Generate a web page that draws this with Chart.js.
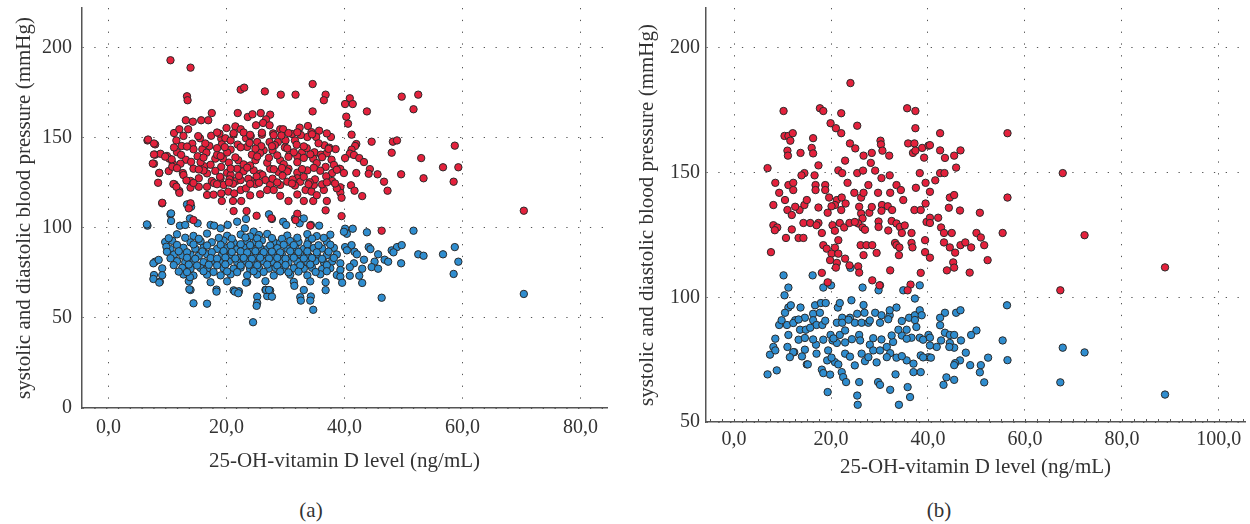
<!DOCTYPE html>
<html>
<head>
<meta charset="utf-8">
<script src="https://cdn.jsdelivr.net/npm/chart.js@4.4.1/dist/chart.umd.min.js"></script>
<style>
  body { margin: 0; background: #fff; width: 1250px; height: 524px; position: relative; overflow: hidden; font-family: "Liberation Serif", serif; }
  .panel { position: absolute; top: 0; width: 625px; height: 480px; }
  .lbl { position: absolute; font-size: 21px; color: #333; white-space: nowrap; transform: translate(-50%, -50%); }
</style>
</head>
<body>
<div class="panel" style="left:0"><canvas id="chartA"></canvas></div>
<div class="panel" style="left:625px"><canvas id="chartB"></canvas></div>
<div class="lbl" style="left:311px;top:510px">(a)</div>
<div class="lbl" style="left:939px;top:510px">(b)</div>
<script>
// panel (a): [25-OH-vitamin D, blood pressure]
const aSystolic = [
  [10.5,193],[13.9,188.9],[22.4,176.7],[23.0,177.8],[26.5,175.7],[29.2,173.9],[31.7,173.9],[34.6,179.8],[36.8,173.9],[36.5,170.8],
  [13.3,173],[13.4,170.8],[34.6,164.6],[17.5,163.7],[21.9,163.7],[13.1,159.7],[14.3,158.9],[15.7,159.7],[16.9,159.7],[23.6,161.5],
  [24.4,163],[25.8,163.7],[27.4,162.8],[26.7,160.2],[26.2,158.2],[25,156.9],[27.3,156.9],[20,155.4],[21.5,156.3],[22.4,154.7],
  [29.1,154.7],[29.6,154.7],[32.4,155.6],[33.8,156.5],[35.7,153.9],[33.7,150.4],[35.2,150.4],[37.7,150.4],[38.5,143.7],[11.1,152.6],
  [12,154.7],[13.5,154.7],[12.7,151],[15.5,149.7],[6.6,148.5],[7.9,146.3],[11.5,148.5],[12.4,145.4],[14.2,146.7],[17.4,151.1],
  [19.1,149.5],[19.8,149.7],[20.7,148.5],[23.3,149.7],[25.2,147.6],[27.3,147.6],[28.7,147.6],[30,148.5],[31.6,148.5],[32.8,141.9],
  [34.9,141.9],[36.6,145.8],[19.2,146.3],[17.1,145.4],[15.9,143.6],[16.6,141.7],[14.4,143.6],[10.3,138.4],[10.9,135.6],[7.7,135.6],
  [7.9,140.6],[13.1,137.8],[15.1,139.7],[18.1,138.4],[19.4,138.4],[20.7,143.4],[22,137.5],[23.5,144.9],[24.9,137.5],[26.3,143],
  [27.8,143],[29.1,137.5],[30.7,141.2],[32,139.7],[34.7,138.4],[36,140.6],[37.8,137.8],[39.1,132.8],[36.8,133.8],[33.7,131.9],
  [30.5,132.8],[27.4,132.8],[24.6,131.9],[21.8,132.8],[19.1,133.8],[16.3,134.1],[12.6,130.4],[8.6,130.4],[14.4,132.8],[28.8,131],
  [8.8,141.1],[11.6,142],[18.4,140.5],[20.1,141.8],[24.3,140.6],[25.7,141.5],[28.6,140.2],[31.4,141.9],[34.2,140.8],[37,141.4],
  [12.2,135.6],[15.6,136.4],[17.3,135],[20.4,136.2],[22.9,135.2],[24,134.6],[26.9,136.1],[29.7,135.3],[32,136.4],[35.3,135.9],[38.2,134.9],
  [10.2,131.5],[16.7,130.2],[18.1,131.6],[20.1,130.5],[22.9,131.4],[25.7,130.1],[30.3,131.3],[32,130.6],[35.9,131.7],[37.9,130.4],
  [40.9,171.9],[40.1,168.7],[41.4,168.7],[49.7,172.8],[52.5,173.9],[51.7,165.8],[43.8,164.6],[40.3,161.7],[40.6,157.8],[41.2,151.7],
  [42,146.5],[41.8,145.4],[44.6,147.8],[48.2,147.8],[48.9,148.5],[41.2,143.4],[40.9,141.2],[41.6,140.4],[40.1,138.7],[42.5,138.7],
  [43.3,136.5],[48,141.7],[53,138.7],[58.7,145.6],[56.7,133.6],[59.3,133.6],[44.3,132.6],[39.3,132.6],[39.9,130.4],[42,130.4],
  [44.1,130],[45.6,129.7],[49.6,129.7],[46.7,125.6],[53.4,127.5],[58.5,125.6],[41.1,123.6],[41.7,120.6],[39.3,122.5],[39.3,119.5],
  [39.5,116.7],[47.3,120.6],[43,117.6],[70.4,109.5],[39.5,106.5],[46.3,98.4],
  [12.7,129.3],[13.9,126],[11.2,124.1],[12,120.4],[13.9,122.3],[15.3,122.8],[16.7,122.8],[17.5,126],[19,127.5],[19.5,123.8],
  [20.3,120.1],[19.1,119.1],[21.3,119.1],[22.4,121],[23.3,121.9],[21.6,126],[22.4,126.5],[20.7,129.3],[24.6,126],[26.1,129.3],
  [26.6,126.5],[27.4,123.8],[26.9,121],[28,121],[29.1,123.8],[30.3,125.6],[32,127.5],[32.5,125.6],[33.4,121],[34.4,120.1],
  [34.8,123.8],[36.5,121],[37.9,126],[38.7,121.9],[30.5,114.9],[33.1,114.9],[34.7,114.9],[37,114.9],[16.7,118.2],[19.2,114.9],
  [21.1,114.9],[22.5,114.9],[9.1,113.6],[13.9,113.6],[13.6,110.8],[21.2,109.3],[23.4,109.3],[25.1,106.7],[27.6,105.3],[32,107.8],
  [31.7,104.3],[34.2,101.2],[36.8,109.7],[14.4,104.3],
  [6.7,149],[7.7,146.8],[7.7,140.7],[7.5,135.7],[8.6,130.5],[8.4,125],[9.1,113.9],[9.9,139.9],[10.7,138],[10.8,133.9],
  [11,124.3],[11.5,122.8],[12,119.4],
  [18.8,152.3],[21.2,151.8],[22.9,152.9],[24.1,150.9],[26,151.7],[27.9,152.4],[29.3,151.2],[31.1,152.1],[32.6,151.5],[34.4,153.1],
  [19.7,144.8],[21.9,146.2],[23.9,147.1],[25.9,145.3],[28.2,145.9],[29.9,144.6],[31.9,146.1],[33.6,144.2],[35.6,146.9],[37.4,144.5],
  [18.9,128.3],[20.5,126.9],[22.1,128.8],[23.7,127.2],[25.1,128.5],[27.8,127.3],[29.5,128.9],[31.2,126.8],[33.1,128.3],[35,126.9],
  [36.9,128.6],[38.4,124.6],[17.9,124.8],[21.1,124.5],[24.9,124.3],[28.6,125.2],[31.6,123.5],[34.1,125.3],[36.2,124.1],[15.3,127.5],
  [13.2,126.3],[16.1,131.8],[14,136.6],[12.3,140.5],[15.2,150.9],[16.4,146.8],
  [18.4,152.9],[21.2,152.5],[24,151.6],[26,152.8],[28,151.4],[30.5,152.6],[32,153],[34.5,151.9],[37,152.4],
  [11.1,144.6],[13.3,145.1],[18.4,144.2],[22.4,144.7],[24.9,143.9],[27.7,145.3],[30.3,144.1],[33.1,145.2],[37.3,143.8],
  [9.6,139.5],[16.1,139],[19,139.8],[21.5,139.1],[25.2,139.6],[27.2,138.9],[30.5,139.4],[33.1,138.8],[36.2,139.2],
  [11.6,133.1],[15.3,132.4],[20.7,132.9],[23.5,133.4],[28,132.5],[29.4,133.2],[32.8,132.6],[34.8,133.3],[38.7,132.2],
  [14.4,124.9],[18.4,124.2],[20.4,125.1],[24,124.4],[25.5,125],[31.1,124.6],[33.9,124.2],[37,125.2],
  [17.8,118.4],[24,118],[25.7,118.6],[29.1,117.8],[32,118.5],[35.3,118.1]
];
const aDiastolic = [
  [6.6,101.2],[10.5,107.5],[10.6,103.8],[13.3,113],[14,111.7],[13.8,105.2],[15.1,102.5],[12.1,101.2],[13,101.6],[17.3,101.6],
  [17.9,101.2],[19,99.7],[20.2,101.6],[21.8,103.4],[23.3,104.9],[23.1,99.7],[24.6,97.9],[25.5,96],[27.2,107.5],[27.7,104.9],
  [29.6,103.4],[30.1,101.6],[32.4,102.5],[33.1,105.2],[31.6,105.2],[34.3,101.6],[35.7,101.2],
  [11.6,96.4],[14.4,95.5],[16.7,96.8],[20.1,95.6],[22.4,96.3],[24,95.2],[26.9,96.6],[30.3,95.7],[33.7,96.5],[35.3,95.4],[37.6,96.2],
  [9.6,92.1],[10.8,92.8],[13.9,91.9],[15.6,92.6],[17.5,92],[19.5,92.9],[21.2,91.8],[23.5,92.5],[24.9,92.1],[26,93],
  [28,92.2],[29.1,91.7],[30.8,92.7],[32.2,92.1],[33.9,92.6],[37,92.3],
  [10.5,88.2],[12.7,88.9],[14.7,88.4],[16.1,89],[18.4,88.3],[20.1,88.8],[21.8,88.1],[22.9,89.1],[24.3,88.5],[25.7,88.9],
  [26.9,88.2],[28.6,88.7],[30.3,88.4],[31.7,89],[33.1,88.3],[34.8,88.8],[36.2,88.5],[38.2,88.9],
  [11.1,85.2],[12.5,84.6],[13.9,85.1],[15.3,84.5],[16.7,85.3],[19.2,84.7],[20.7,85.2],[22.4,84.6],[23.8,85.1],[25.2,84.8],
  [26.6,85.3],[28,84.6],[29.4,85],[31.1,84.7],[32.5,85.2],[33.9,84.5],[35.3,85.1],[37,84.8],[38.7,85.2],
  [7.9,81.2],[11.6,81.5],[13,80.9],[14.4,81.4],[16.1,81],[17.5,81.6],[19,80.8],[20.4,81.3],[21.8,81.1],[23.2,81.6],
  [24.6,80.9],[26.3,81.4],[27.7,81],[29.1,81.5],[30.5,80.8],[32,81.3],[33.7,81],[35.1,81.5],[36.5,80.9],[37.9,81.3],
  [9.1,77.5],[12.5,77.8],[13.9,77.2],[15.6,77.7],[16.7,77.1],[19.5,77.6],[21.2,77.3],[22.4,77.9],[24,77.2],[25.5,77.7],
  [27.2,77.4],[28.3,77.8],[29.7,77.2],[31.4,77.6],[33.1,77.3],[34.5,77.8],[36.2,77.1],[37.6,77.6],
  [7.7,73.8],[12.7,74.1],[14.4,73.5],[16.7,74],[19,73.6],[20.7,74.2],[23.5,73.7],[25.2,74.1],[28,73.5],[30.8,74],
  [33.7,73.6],[35.9,74.2],[38.7,73.8],
  [8.7,70.1],[13.6,70.4],[17.3,69.8],[20.1,70.3],[23.5,69.9],[26.6,70.4],[31.4,70],[34.2,70.3],[36.8,69.8],
  [13.9,65.5],[18.3,65.7],[21.2,65.3],[22.1,64.8],[26.6,65.6],[27.4,65.2],[33.1,65.5],[36.8,65.4],
  [25.2,61.8],[26.9,62.1],[32.5,61.5],[34.3,61.9],[14.4,58.1],[16.7,57.9],[25.2,58.3],
  [24.5,47.6],[25.1,56.7],[34.7,54.5],[34.2,59.6],[32.6,59.6],[18.3,64.6],[21.4,64.6],[22,63.7],[23.3,69.6],[27.7,61.8],
  [26.7,65.5],[27.2,65.5],[31.5,67.8],[13.7,65.9],[13.8,72.6],[7.6,71.6],[8.6,69.6],[9.1,73.7],[6.5,101.9],[10.6,108],
  [7.6,80.3],[8.5,82.2],[9.8,89.5],
  [10.2,94.2],[13,94.5],[15.3,93.9],[18.7,94.4],[20.9,94],[23.2,94.6],[25.2,94.1],[27.7,94.3],[29.4,93.9],[32,94.5],[34.5,94],[36.5,94.4],
  [11.6,90.5],[14.4,90.8],[16.7,90.2],[19,90.6],[20.7,90.3],[22.4,90.9],[24,90.4],[25.5,90.7],[27.4,90.2],[29.7,90.6],[31.4,90.4],[33.7,90.8],[35.6,90.3],[37.6,90.6],
  [9.9,86.7],[11.9,87],[13.3,86.4],[15.9,86.9],[17.5,86.5],[19.5,87.1],[20.9,86.6],[22.4,86.9],[23.5,86.3],[24.9,87],
  [26.3,86.5],[27.7,86.8],[29.1,86.4],[30.8,87],[32.2,86.6],[33.7,86.9],[35.3,86.4],[37.3,86.8],
  [10.5,83.1],[13.3,83.4],[14.7,82.8],[17.3,83.2],[18.4,82.9],[19.8,83.5],[21.5,83],[22.9,83.3],[24.3,82.8],[25.7,83.4],
  [27.2,83],[28.6,83.3],[30,82.9],[31.4,83.4],[33.1,83],[34.5,83.2],[36.2,82.8],[38.2,83.3],
  [11.05,79.3],[13.6,79.6],[15,79.1],[17,79.5],[18.4,79.2],[19.8,79.7],[22.4,79.1],[23.8,79.5],[25.2,79.3],[26.9,79.6],
  [28.6,79.1],[30,79.4],[32.5,79.2],[34.2,79.6],[37,79.3],
  [11.9,75.7],[13.3,75.4],[16.1,75.9],[17.8,75.5],[20.1,75.8],[21.8,75.4],[24.6,75.9],[26.3,75.5],[29.1,75.8],[30.5,75.3],
  [32.2,75.7],[35.1,75.5],[37,75.9],
  [40.1,99.5],[41.4,99.5],[40.4,96.7],[39.9,97.8],[43.8,97.5],[51.7,98.4],[40.1,89.3],[41.2,90.4],[40.4,87.5],[41.7,86.7],
  [42.1,85.3],[44.1,89.3],[44.4,88.2],[48,87.5],[48.9,89.3],[49.7,90.4],[48.3,86.4],[45.7,85.3],[46.8,82.3],[47.4,81.2],
  [52.5,85.3],[53.4,84.5],[56.7,85.3],[58.7,89.3],[59.3,81.2],[49.6,80.3],[45.1,81.2],[44.6,78.2],[45.7,77.3],[43.3,82.3],
  [41.6,80.3],[40.9,78.2],[43,77.3],[39.3,80.3],[39.3,76.6],[39.3,72.9],[40.9,73.4],[42.5,73.4],[43,69.4],[39.6,69.5],
  [58.5,74.4],[46.3,61.2],[70.4,63.3]
];

// panel (b)
const bSystolic = [
  [24,185.9],[10.2,174.7],[17.7,175.8],[18.4,174.7],[22.1,173.8],[35.7,175.8],[37.4,174.7],[37.4,167.8],[25.4,168.8],[19.9,169.8],
  [21,167.8],[22.1,165.8],[10.4,164.7],[11.2,164.7],[12.1,165.8],[11.6,162.8],[16.3,163.8],[16,159.9],[16.3,157.7],[11,158.8],
  [11.1,156.8],[13.7,157.9],[23.9,161.7],[25,159.7],[30.2,162.8],[30.3,161.3],[30.6,158.8],[28.4,157.9],[26.7,156.8],[32,156.8],
  [35.9,161.7],[37.2,161.7],[36.9,157.9],[37.4,158.8],[38.8,159.9],[40.1,160.8],[39.2,156],[22.9,154.8],[28.2,153.9],[17.4,152.9],
  [6.9,151.8],[21.5,150.9],[22.3,149.8],[25.4,149.8],[26.6,150.8],[29.1,150.8],[14.5,149.8],[13.9,148.9],[16.6,148.9],[38.3,149.8],
  [32.1,148.9],[30.4,147.8],[8.5,145.9],[11.2,145],[12.2,145.9],[16.8,145],[18.8,145],[23.4,145.9],[27.7,145],[33.5,145],
  [37.5,143.9],[39.5,145.9],
  [56.4,165.8],[40.4,161],[42.5,165.8],[42.5,158.9],[43.5,155.9],[45.4,156.8],[46.7,158.9],[45.8,152],[42.5,149.8],[43.4,149.8],
  [41.5,146.9],[67.8,149.8],
  [9.3,141.9],[12.2,143],[16.8,143],[18.8,143],[19.6,140],[21.2,139],[22.2,140],[23,137.6],[22.1,135],[20.8,137],
  [24.8,141.9],[26.2,140],[26.7,141.9],[25.8,136.3],[26.2,133.6],[27.9,133.9],[26.5,131.6],[25.6,129.6],[26.5,128],
  [29.7,141.9],[32.2,141.9],[34.4,143],[34.9,139],[30.5,137],[31.7,136.5],[32.6,135],[30.4,134.7],[29.8,130.4],[29.8,128.2],
  [32.5,130.6],[33.5,129.6],[34.2,128.2],[35.2,128.8],[34.6,125.8],[36.6,125.8],[37.2,135],[38.5,135],[39.5,137.6],[39.7,130.2],
  [39.4,122.9],[8.1,137],[10.5,139],[11,135],[11.9,133],[13.5,135],[14.5,137],[15,139],[8.1,128.9],[8.9,128],
  [14.3,129.8],[15.7,129.8],[17.4,129.8],[18.1,125.8],[17,128.9],[19.3,133.9],[20.3,128.9],[21.8,129.8],[22.7,128],[23.8,129.8],
  [24.9,130.2],[10.7,123.8],[13.3,123.8],[14.3,123.8],[7.6,118.1],[18.4,120.9],[19.1,119.5],[20.8,119.9],[21.5,122.9],[20.1,117.5],
  [21.5,117.5],[22.9,115.5],[19.8,114.9],[21.2,113.8],[21,111.9],[23.8,112.8],[25.6,112.4],[25.8,109.9],[26.1,120.9],[27.3,120.9],
  [28.5,120.9],[26.7,116.9],[29.4,117.8],[33.2,121.8],[33.5,120.9],[34.1,120],[34,116.9],[36.6,121.8],[36.8,120],[39.4,118.1],
  [32.2,110.8],[38.5,109.8],[36.4,105.1],[35.8,102.8],[18.1,109.8],[19.3,106],[28.5,106.8],[30,104.8],
  [40.4,142.3],[44.5,140],[45.4,141],[56.4,140],[44.3,135.9],[46.6,134.8],[50.7,133.9],[40.4,131.9],[42.1,131.9],[40.4,129.8],
  [42.7,128],[43.3,125.8],[44.9,125.8],[50,125.8],[50.9,124],[51.6,120.9],[55.4,125.8],[43.3,122],[44.5,120],[45.6,117.9],
  [46.7,120.9],[47.7,122],[48.9,120],[40.4,115.9],[45.2,114],[45.4,111.9],[43.9,110.8],[48.6,109.9],[52.3,114.9],
  [12.6,136.3],[17.4,136],[20.1,136.5],[28.4,136.2],[8.4,126.9],[11.9,127.2],[20.8,126.7],[27,127.1],[31.8,126.8],
  [72.3,124.9],[67.3,102.8],[88.9,112]
];
const bDiastolic = [
  [10.2,108.8],[16.2,108.8],[11.2,103.9],[10.4,100.8],[18.4,103.9],[20,104.8],[24,111.8],[26.5,103.9],[30.1,104.8],[29.8,102.8],
  [34.9,102.8],[38.3,104.8],[37.3,99.5],
  [11.2,95.9],[10.5,93.8],[11.7,96.8],[13.7,95.9],[16.7,96.8],[17.9,97.7],[18.9,97.7],[21.4,95.9],[21.8,97.7],[24.2,98.8],
  [16.3,93.4],[17.7,93.8],[14.6,91.8],[16.3,90.8],[12.6,90.8],[9.3,88.9],[10.9,88.9],[12.2,89.7],[13.6,87],[14.8,87],
  [17,88.9],[18.2,88.9],[15.7,87.8],[22.3,91.8],[23.9,91.8],[25.4,93.4],[26.9,93.8],[26.7,96.9],[29.1,93.8],[30.4,92.8],
  [32.1,92.8],[32.1,94.8],[33.5,95.9],[36.1,91.8],[37.3,92.8],[38.3,94.8],[38.7,92.8],[21.2,89.8],[22.3,89.8],[24.9,89.8],
  [26.3,89.8],[27.7,89.8],[30.1,89.8],[11.2,84.9],[13.3,83],[11,80.1],[12.4,78],[14.6,79],[16.9,81],[18.4,83],
  [19.9,84.9],[20.3,82.7],[21.8,84.9],[22.9,86.7],[21.2,81.7],[22.9,81.9],[25.8,84.9],[26,82.7],[28,81],[26.3,77.4],
  [28.7,78.7],[30.1,78.7],[31.5,80.1],[32.8,82.1],[32.5,84.7],[34.6,84.7],[36.6,83.8],[38.3,83.8],[39,83],[33.9,87],
  [35.6,87],[37.6,88.1],[40.1,84.9],[8.1,80.1],[7.4,77],[8.5,78.7],[12.2,78],[15,73.1],[17,77.4],[19.4,78.7],
  [19.2,74.7],[20.8,74],[21.5,73.1],[22.9,77.4],[24.9,72.7],[27,74.4],[27.7,76],[29.4,73.9],[32.2,77.6],[33.5,75.8],
  [35.6,74.7],[37,73.4],[38.5,76.7],[40.1,76],[6.9,69.1],[8.8,70.7],[18.1,71],[18.4,69.6],[19.8,69],[22.2,70],
  [22.5,68],[23.1,66],[25.8,66],[29.7,66],[30.1,64.9],[33.3,69.1],[37,70],[38.5,70],[19.3,62],[25.4,60.6],
  [25.5,56.9],[32.2,62.9],[35.8,64],[36.3,60],[34,56.9],[15.2,73.1],
  [9.8,90.8],[13.3,91.1],[18.8,90.6],[23.6,91],[28,90.7],[31.8,91.2],[34.6,90.5],[37.3,90.9],
  [8.5,83.4],[14.6,83.7],[16.3,83.1],[20.5,83.5],[24.3,83.2],[28.7,83.6],[30.4,83.1],[35.6,83.4],
  [11.5,76],[14,76.3],[20.1,75.8],[23.9,76.2],[31.5,76],[34.6,76.4],[39,75.9],
  [56.3,96.8],[45.8,93.8],[46.7,94.8],[43.5,93.8],[42.5,91.8],[42.5,88.8],[43.5,85.8],[44.5,84.9],[45.4,84.9],[40.4,83.8],
  [50,86.7],[48.9,84.9],[46.8,82.7],[42.7,82.7],[44.5,81.7],[45.4,79.8],[44.4,80.1],[41.8,80.1],[40.4,80.7],[47.8,77.8],
  [55.4,82.7],[40.6,75.8],[46.6,74.7],[45.6,73.6],[45.4,72.8],[48.7,72.8],[50.9,72.8],[52.4,75.8],[56.4,74.8],[50.7,69.9],
  [43.8,67.9],[45.4,66.9],[43.2,64.9],[51.6,65.9],[67.8,79.8],[72.3,77.9],[67.3,65.9],[88.9,61]
];

const aXTicks = [0, 20, 40, 60, 80];
const aYTicks = [0, 50, 100, 150, 200];
const bXTicks = [0, 20, 40, 60, 80, 100];
const bYTicks = [50, 100, 150, 200];
const bMinorStep = 2.5;
const xTitle = "25-OH-vitamin D level (ng/mL)";
const yTitle = "systolic and diastolic blood pressure (mmHg)";

const serif = "'Liberation Serif', serif";
const inkColor = "#333";

function toPoints(pairs) {
  return pairs.map(p => ({ x: p[0], y: p[1] }));
}

// short inward ticks on the x axis between the labelled ones
const minorTicks = {
  id: "minorTicks",
  afterDraw(chart, args, opts) {
    if (!opts.step) return;
    const xs = chart.scales.x;
    const ctx = chart.ctx;
    const y0 = chart.chartArea.bottom;
    ctx.save();
    ctx.strokeStyle = "#555";
    ctx.lineWidth = 1;
    ctx.beginPath();
    for (let v = opts.from; v <= opts.to + 1e-9; v += opts.step) {
      const px = Math.round(xs.getPixelForValue(v)) + 0.5;
      ctx.moveTo(px, y0);
      ctx.lineTo(px, y0 - 3);
    }
    ctx.stroke();
    ctx.restore();
  }
};

function makeChart(id, sys, dia, xr, yr, xTicks, yTicks, box) {
  return new Chart(document.getElementById(id), {
    type: "scatter",
    data: {
      datasets: [
        { label: "systolic", data: toPoints(sys), backgroundColor: "#e4213c", borderColor: "#2a2a2a", borderWidth: 1, pointRadius: 3.7, order: 1 },
        { label: "diastolic", data: toPoints(dia), backgroundColor: "#2f8dcf", borderColor: "#2a2a2a", borderWidth: 1, pointRadius: 3.7, order: 2 }
      ]
    },
    plugins: [minorTicks],
    options: {
      responsive: true,
      maintainAspectRatio: false,
      animation: false,
      events: [],
      layout: { padding: { left: 0, right: box.right, top: 8, bottom: 0 } },
      plugins: {
        legend: { display: false },
        tooltip: { enabled: false },
        minorTicks: box.minor || {}
      },
      scales: {
        x: {
          type: "linear", min: xr[0], max: xr[1],
          afterBuildTicks: s => { s.ticks = xTicks.map(v => ({ value: v })); },
          afterFit: s => { s.height = box.xh; s.paddingLeft = 0; s.paddingRight = 0; },
          ticks: { color: inkColor, font: { family: serif, size: 20 }, padding: box.xpad, maxRotation: 0,
                   callback: v => v.toFixed(1).replace(".", ",") },
          grid: { color: "#555", lineWidth: 1, drawTicks: false },
          border: { color: "#555", width: 1.5, dash: [1.3, 10.5] },
          title: { display: true, text: xTitle, color: inkColor, font: { family: serif, size: 21 }, padding: { top: 0, bottom: box.xtpad } }
        },
        y: {
          type: "linear", min: yr[0], max: yr[1],
          afterBuildTicks: s => { s.ticks = yTicks.map(v => ({ value: v })); },
          afterFit: s => { s.width = box.yw; s.paddingTop = 0; s.paddingBottom = 0; },
          ticks: { color: inkColor, font: { family: serif, size: 20 }, padding: box.ypad },
          grid: { color: "#555", lineWidth: 1, drawTicks: false },
          border: { color: "#555", width: 1.5, dash: [1.3, 10.5] },
          title: { display: true, text: yTitle, color: inkColor, font: { family: serif, size: 21 }, padding: { top: box.tpad, bottom: 0 } }
        }
      }
    }
  });
}

makeChart("chartA", aSystolic, aDiastolic, [-4.5, 84.5], [0, 222], aXTicks, aYTicks,
  { right: 18, xh: 72, xpad: 8, xtpad: 6.4, yw: 82, ypad: 10, tpad: 11.5 });
makeChart("chartB", bSystolic, bDiastolic, [-5.8, 105.4], [50, 216], bXTicks, bYTicks,
  { right: 5, xh: 58, xpad: 6, xtpad: 0, yw: 81, ypad: 6, tpad: 9.5,
    minor: { from: -5, to: 105, step: bMinorStep } });
</script>
</body>
</html>
